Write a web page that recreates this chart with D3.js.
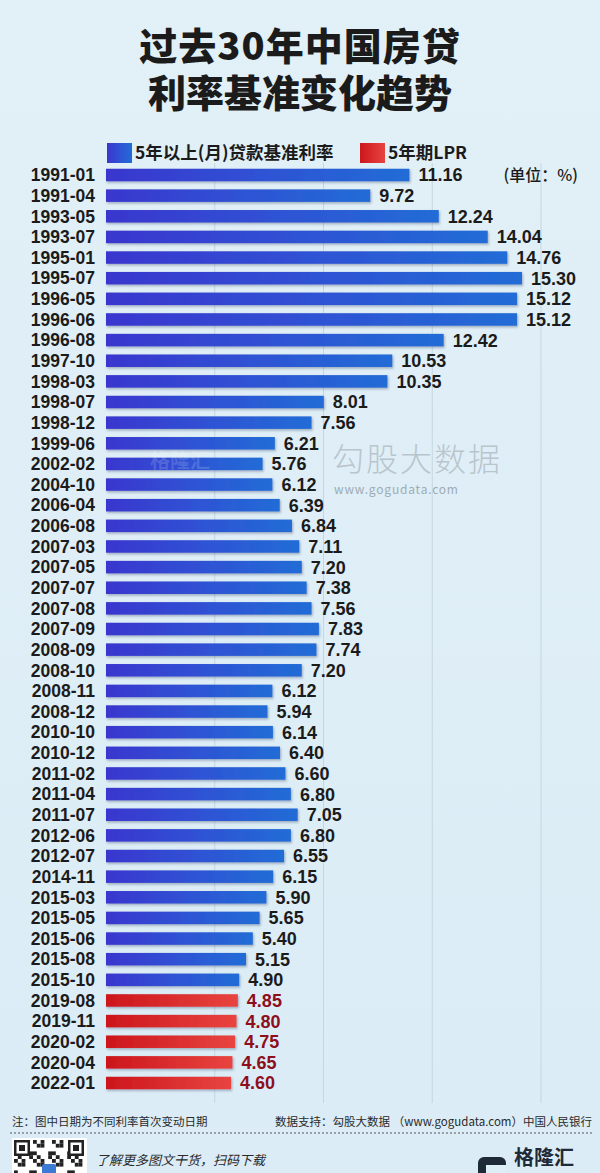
<!DOCTYPE html>
<html><head><meta charset="utf-8">
<script src="https://cdn.jsdelivr.net/npm/d3@7"></script>
<style>
html,body{margin:0;padding:0;background:#ddeef7;}
svg{display:block;}
text{font-family:"Noto Sans CJK SC","Noto Sans",sans-serif;}
text.num{font-family:"Liberation Sans",Arial,sans-serif;}
</style></head>
<body><svg id="c" width="600" height="1173"></svg>
<script>
const titleLines = ["过去30年中国房贷", "利率基准变化趋势"];
const legendLabels = ["5年以上(月)贷款基准利率", "5年期LPR"];
const baseDates = ["1991-01","1991-04","1993-05","1993-07","1995-01","1995-07","1996-05","1996-06","1996-08","1997-10","1998-03","1998-07","1998-12","1999-06","2002-02","2004-10","2006-04","2006-08","2007-03","2007-05","2007-07","2007-08","2007-09","2008-09","2008-10","2008-11","2008-12","2010-10","2010-12","2011-02","2011-04","2011-07","2012-06","2012-07","2014-11","2015-03","2015-05","2015-06","2015-08","2015-10"];
const baseValues = [11.16,9.72,12.24,14.04,14.76,15.30,15.12,15.12,12.42,10.53,10.35,8.01,7.56,6.21,5.76,6.12,6.39,6.84,7.11,7.20,7.38,7.56,7.83,7.74,7.20,6.12,5.94,6.14,6.40,6.60,6.80,7.05,6.80,6.55,6.15,5.90,5.65,5.40,5.15,4.90];
const lprDates = ["2019-08","2019-11","2020-02","2020-04","2022-01"];
const lprValues = [4.85,4.80,4.75,4.65,4.60];
const gridTicks = [4, 8, 12, 16];
const unitLabel = "(单位：%)";
const noteText = "注：图中日期为不同利率首次变动日期";
const sourceText = "数据支持：勾股大数据 （www.gogudata.com）中国人民银行";
const promoText = "了解更多图文干货，扫码下载";

const rows = baseDates.map((d,i)=>({date:d,value:baseValues[i],s:"base"}))
  .concat(lprDates.map((d,i)=>({date:d,value:lprValues[i],s:"lpr"})));

const svg = d3.select("#c");
const defs = svg.append("defs");
const bg = defs.append("linearGradient").attr("id","bg").attr("x1",0).attr("y1",0).attr("x2",0).attr("y2",1);
bg.append("stop").attr("offset",0).attr("stop-color","#e2f0f7");
bg.append("stop").attr("offset",1).attr("stop-color","#dbecf6");
const gb = defs.append("linearGradient").attr("id","gBlue");
gb.append("stop").attr("offset",0).attr("stop-color","#3a36cf");
gb.append("stop").attr("offset",0.5).attr("stop-color","#2f52d4");
gb.append("stop").attr("offset",1).attr("stop-color","#226cd6");
const gr = defs.append("linearGradient").attr("id","gRed");
gr.append("stop").attr("offset",0).attr("stop-color","#cc161c");
gr.append("stop").attr("offset",1).attr("stop-color","#e84440");
const f = defs.append("filter").attr("id","sh").attr("x","-5%").attr("y","-30%").attr("width","110%").attr("height","180%");
f.append("feDropShadow").attr("dx",1).attr("dy",1.5).attr("stdDeviation",1).attr("flood-color","#1a2a50").attr("flood-opacity",0.35);

svg.append("rect").attr("width",600).attr("height",1173).attr("fill","url(#bg)");

// Title
svg.selectAll("text.title").data(titleLines).join("text").attr("class","title")
  .attr("x",300).attr("y",(d,i)=>60+i*47).attr("text-anchor","middle")
  .attr("font-size",38).attr("font-weight",900).attr("fill","#1b1b1b").attr("letter-spacing",(d,i)=>i===0?1:0)
  .text(d=>d);

// Legend
const legColors = ["url(#gBlue)","url(#gRed)"];
const legX = [107, 360];
const lg = svg.selectAll("g.leg").data(legendLabels).join("g").attr("class","leg")
  .attr("transform",(d,i)=>`translate(${legX[i]},143)`);
lg.append("rect").attr("width",25).attr("height",20).attr("fill",(d,i)=>legColors[i]);
lg.append("text").attr("x",28).attr("y",16).attr("font-size",17.5).attr("font-weight",700).attr("fill","#1b1b1b").text(d=>d);

// Scales
const x = d3.scaleLinear().domain([0,16]).range([106,541]);
const y = d3.scalePoint().domain(rows.map(d=>d.date)).range([175,1083]);
const bh = 12.5;

// Grid
svg.append("g").selectAll("line").data(gridTicks).join("line")
  .attr("x1",d=>x(d)).attr("x2",d=>x(d)).attr("y1",163).attr("y2",1103)
  .attr("stroke","#c5d6e0").attr("stroke-width",1);

// Watermark
svg.append("text").attr("x",332).attr("y",471).attr("font-size",32).attr("font-weight",300)
  .attr("fill","#b9c5cd").attr("letter-spacing",2).text("勾股大数据");
svg.append("text").attr("x",334).attr("y",494).attr("font-size",12).attr("font-family","DejaVu Sans Mono")
  .attr("fill","#9eabb3").attr("letter-spacing",0.8).text("www.gogudata.com");

// Bars
svg.append("g").selectAll("rect").data(rows).join("rect")
  .attr("x",x(0)).attr("y",d=>y(d.date)-bh/2).attr("width",d=>x(d.value)-x(0)).attr("height",bh)
  .attr("fill",d=>d.s==="base"?"url(#gBlue)":"url(#gRed)").attr("filter","url(#sh)");

// Watermark over bars
svg.append("text").attr("x",150).attr("y",468).attr("font-size",20).attr("font-weight",700)
  .attr("fill","#ffffff").attr("fill-opacity",0.16).text("格隆汇");

// Date labels
svg.append("g").selectAll("text").data(rows).join("text").attr("class","num")
  .attr("x",95).attr("y",d=>y(d.date)).attr("dy","0.36em").attr("text-anchor","end")
  .attr("font-size",17.5).attr("font-weight",700).attr("fill","#1b1b1b").text(d=>d.date);

// Value labels
svg.append("g").selectAll("text").data(rows).join("text").attr("class","num")
  .attr("x",d=>x(d.value)+9).attr("y",d=>y(d.date)).attr("dy","0.36em")
  .attr("font-size",18).attr("font-weight",700).attr("fill",d=>d.s==="base"?"#1b1b1b":"#8e0f1c")
  .text(d=>d3.format(".2f")(d.value));

svg.append("text").attr("x",578).attr("y",y(rows[0].date)).attr("dy","0.36em").attr("text-anchor","end")
  .attr("font-size",16).attr("font-weight",500).attr("fill","#1b1b1b").text(unitLabel);

// Footer
svg.append("text").attr("x",12).attr("y",1126).attr("font-size",11.5).attr("fill","#2a2a2a").text(noteText);
svg.append("text").attr("x",592).attr("y",1126).attr("text-anchor","end").attr("font-size",11.5).attr("fill","#2a2a2a").text(sourceText);
svg.append("line").attr("x1",10).attr("x2",592).attr("y1",1133).attr("y2",1133)
  .attr("stroke","#555").attr("stroke-width",1).attr("stroke-dasharray","2,2");

// QR code (decorative)
const qr = svg.append("g").attr("transform","translate(12,1138)");
qr.append("rect").attr("width",75).attr("height",40).attr("fill","#ffffff");
const cells = [];
for (let r=0;r<10;r++) for (let c=0;c<19;c++){ if(((r*7+c*13+r*c)%5)<2) cells.push([c,r]); }
qr.selectAll("rect.m").data(cells).join("rect").attr("class","m")
  .attr("x",d=>2+d[0]*3.8).attr("y",d=>2+d[1]*3.8).attr("width",3.8).attr("height",3.8).attr("fill","#222");
[[2,2],[56,2]].forEach(p=>{
  qr.append("rect").attr("x",p[0]).attr("y",p[1]).attr("width",16).attr("height",16).attr("fill","#222");
  qr.append("rect").attr("x",p[0]+2.5).attr("y",p[1]+2.5).attr("width",11).attr("height",11).attr("fill","#fff");
  qr.append("rect").attr("x",p[0]+5).attr("y",p[1]+5).attr("width",6).attr("height",6).attr("fill","#222");
});
qr.append("rect").attr("x",30).attr("y",26).attr("width",14).attr("height",14).attr("rx",2).attr("fill","#3a7bd5");

svg.append("text").attr("x",96).attr("y",1165).attr("font-size",13).attr("font-style","italic")
  .attr("fill","#2a2a2a").text(promoText);

// Logo
svg.append("rect").attr("x",478).attr("y",1157).attr("width",28).attr("height",30).attr("rx",6).attr("fill","#1f2a38");
svg.append("rect").attr("x",486).attr("y",1165).attr("width",20).attr("height",22).attr("fill","#ddeef7");
svg.append("text").attr("x",514).attr("y",1165).attr("font-size",20).attr("font-weight",700).attr("fill","#1f2a38").text("格隆汇");
</script></body></html>
